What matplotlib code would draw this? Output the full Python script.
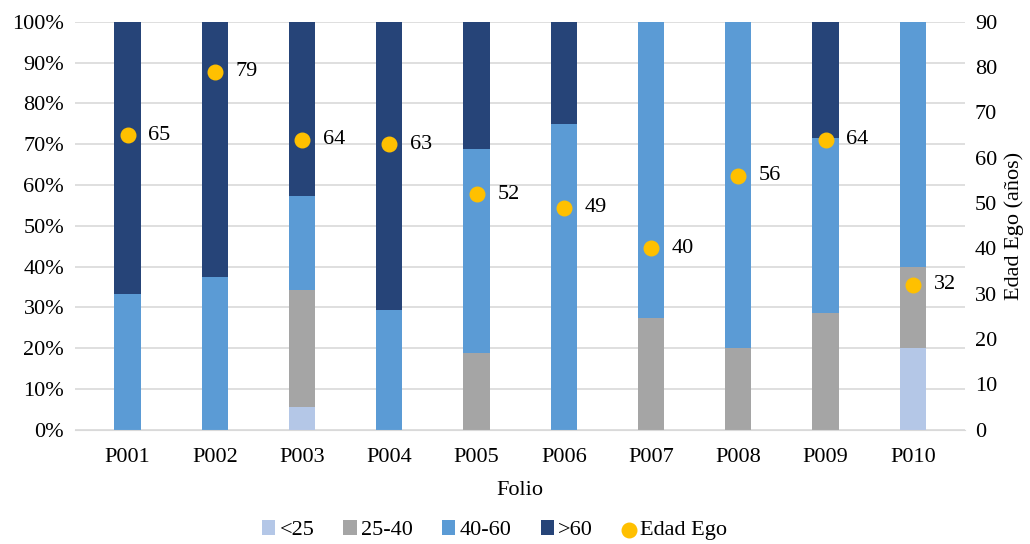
import numpy as np
import matplotlib
matplotlib.use("Agg")
import matplotlib.pyplot as plt

plt.rcParams["font.family"] = "serif"
plt.rcParams["font.serif"] = ["Liberation Serif", "DejaVu Serif"]
plt.rcParams["font.size"] = 16

folios = ["P001", "P002", "P003", "P004", "P005", "P006", "P007", "P008", "P009", "P010"]
menor25 = [0, 0, 5.7, 0, 0, 0, 0, 0, 0, 20]
r25_40 = [0, 0, 28.6, 0, 18.75, 0, 27.3, 20, 28.6, 20]
r40_60 = [33.3, 37.5, 22.9, 29.4, 50, 75, 72.7, 80, 42.8, 60]
mayor60 = [66.7, 62.5, 42.8, 70.6, 31.25, 25, 0, 0, 28.6, 0]
edad_ego = [65, 79, 64, 63, 52, 49, 40, 56, 64, 32]

series = [("<25", menor25, "#b4c7e7"), ("25-40", r25_40, "#a5a5a5"),
          ("40-60", r40_60, "#5b9bd5"), (">60", mayor60, "#264478")]

fig = plt.figure(figsize=(10.3, 5.44), dpi=100)
ax = fig.add_axes([0.073, 0.21, 0.864, 0.75])
x = np.arange(len(folios))
bottom = np.zeros(len(folios))
handles = []
for name, vals, col in series:
    h = ax.bar(x, vals, 0.3, bottom=bottom, color=col, label=name, zorder=2)
    handles.append(h)
    bottom += np.array(vals)

ax.set_ylim(0, 100)
ax.set_xlim(-0.6, len(folios) - 0.4)
ax.set_yticks(np.arange(0, 101, 10))
ax.set_yticklabels([f"{v}%" for v in range(0, 101, 10)])
ax.set_xticks(x)
ax.set_xticklabels(folios)
ax.yaxis.grid(True, color="#d9d9d9", linewidth=1.2, zorder=0)
ax.set_axisbelow(True)
for s in ax.spines.values():
    s.set_visible(False)
ax.spines["bottom"].set_visible(True)
ax.spines["bottom"].set_color("#d9d9d9")
ax.tick_params(axis="y", length=0, pad=8)
ax.tick_params(axis="x", length=0, pad=13)
ax.set_xlabel("Folio", labelpad=10)

ax2 = ax.twinx()
ax2.set_ylim(0, 90)
ax2.set_yticks(np.arange(0, 91, 10))
for s in ax2.spines.values():
    s.set_visible(False)
ax2.tick_params(length=0, pad=7)
sc = ax2.scatter(x, edad_ego, s=110, color="#ffc000", zorder=3, label="Edad Ego")
for xi, v in zip(x, edad_ego):
    ax2.annotate(str(v), (xi, v), xytext=(15, 0), textcoords="offset points",
                 va="center", ha="left")
ax2.set_ylabel("Edad Ego (años)", labelpad=5)

fig.legend(handles + [sc], [s[0] for s in series] + ["Edad Ego"],
           loc="lower center", ncol=5, frameon=False, bbox_to_anchor=(0.48, -0.03),
           handlelength=0.6, handleheight=0.6, handletextpad=0.2, columnspacing=1.3)

fig.savefig("out.png", dpi=100)
